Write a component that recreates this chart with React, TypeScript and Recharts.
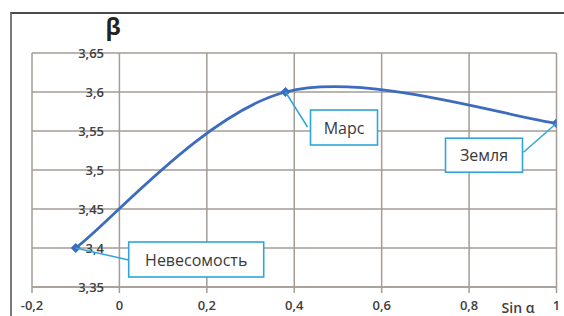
import React from "react";
import { LineChart, Line, XAxis, YAxis, CartesianGrid, LabelList } from "recharts";

const sinAlpha = [-0.1, 0.38, 1];
const beta = [3.4, 3.6, 3.56];
const pointNames = ["Невесомость", "Марс", "Земля"];
const xTicks = [-0.2, 0, 0.2, 0.4, 0.6, 0.8, 1];
const yTicks = [3.35, 3.4, 3.45, 3.5, 3.55, 3.6, 3.65];

const data = sinAlpha.map((x, i) => ({ x, y: beta[i], name: pointNames[i] }));

// callout placement relative to each point (style only)
const callouts = [
  { bx: 53, by: -6, bw: 135, bh: 35, lx: 53, ly: 12 },
  { bx: 25, by: 18, bw: 67, bh: 35, lx: 22, ly: 35 },
  { bx: -111, by: 15, bw: 77, bh: 34, lx: -33, ly: 29 },
];

const GRID = "#a39c97";
const LINE = "#3d6cbf";
const CALLOUT = "#2fa5d8";
const TEXT = "#3a3a3a";
const TICK = "#404040";
const FONT = "'Open Sans', sans-serif";

const fmt = (v: number) => String(v).replace(".", ",");

// Excel-like smoothed line (Catmull-Rom with 1/6 tangents)
const excelSmooth: any = (context: any) => {
  let pts: [number, number][] = [];
  return {
    areaStart() {},
    areaEnd() {},
    lineStart() {
      pts = [];
    },
    lineEnd() {
      const n = pts.length;
      if (n === 0) return;
      context.moveTo(pts[0][0], pts[0][1]);
      for (let i = 0; i < n - 1; i++) {
        const p0 = pts[Math.max(0, i - 1)];
        const p1 = pts[i];
        const p2 = pts[i + 1];
        const p3 = pts[Math.min(n - 1, i + 2)];
        context.bezierCurveTo(
          p1[0] + (p2[0] - p0[0]) / 6,
          p1[1] + (p2[1] - p0[1]) / 6,
          p2[0] - (p3[0] - p1[0]) / 6,
          p2[1] - (p3[1] - p1[1]) / 6,
          p2[0],
          p2[1]
        );
      }
    },
    point(x: number, y: number) {
      pts.push([+x, +y]);
    },
  };
};

const renderYTick = (props: any) => {
  const { y, payload, index } = props;
  return (
    <text
      key={`yt${index}`}
      x={104}
      y={y}
      textAnchor="end"
      dominantBaseline="central"
      fontFamily={FONT}
      fontSize={13}
      fontWeight={600}
      fill={TICK}
    >
      {fmt(payload.value)}
    </text>
  );
};

const Diamond = (p: any) => {
  const { cx, cy, index } = p;
  const r = 5;
  return (
    <path
      key={`d${index}`}
      d={`M${cx},${cy - r}L${cx + r},${cy}L${cx},${cy + r}L${cx - r},${cy}Z`}
      fill={LINE}
    />
  );
};

const Callout = (p: any) => {
  const { x, y, index, value } = p;
  const c = callouts[index];
  if (!c) return null;
  return (
    <g>
      <line x1={x} y1={y} x2={x + c.lx} y2={y + c.ly} stroke={CALLOUT} strokeWidth={1.5} />
      <rect
        x={x + c.bx}
        y={y + c.by}
        width={c.bw}
        height={c.bh}
        fill="#ffffff"
        stroke={CALLOUT}
        strokeWidth={1.6}
      />
      <text
        x={x + c.bx + c.bw / 2}
        y={y + c.by + c.bh / 2}
        textAnchor="middle"
        dominantBaseline="central"
        fontFamily={FONT}
        fontSize={16}
        fill={TEXT}
      >
        {value}
      </text>
    </g>
  );
};

export default function App() {
  return (
    <div style={{ position: "absolute", left: 0, top: 0, width: 564, height: 316, background: "#fff", overflow: "hidden" }}>
      <div
        style={{
          position: "absolute",
          left: 10,
          top: 12,
          width: 560,
          height: 320,
          borderLeft: "2px solid #7a7a7a",
          borderTop: "2px solid #4a4a4a",
        }}
      />
      <div style={{ position: "absolute", left: 0, top: 0 }}>
        <LineChart width={564} height={316} data={data} margin={{ top: 53, right: 7.5, bottom: 0, left: 2 }}>
          <CartesianGrid stroke={GRID} strokeWidth={1.5} />
          <XAxis
            dataKey="x"
            type="number"
            domain={[-0.2, 1]}
            ticks={xTicks}
            tickFormatter={fmt}
            height={29}
            stroke={GRID}
            axisLine={{ stroke: GRID, strokeWidth: 1.5 }}
            tickLine={{ stroke: GRID, strokeWidth: 1.5 }}
            tickSize={6}
            tickMargin={8}
            tick={{ fontFamily: FONT, fontSize: 13, fontWeight: 600, fill: TICK }}
            allowDataOverflow
          />
          <YAxis
            type="number"
            domain={[3.35, 3.65]}
            ticks={yTicks}
            width={30}
            axisLine={false}
            tickLine={false}
            tick={renderYTick}
            allowDataOverflow
          />
          <Line
            dataKey="y"
            type={excelSmooth}
            stroke={LINE}
            strokeWidth={2.75}
            dot={<Diamond />}
            activeDot={false}
            isAnimationActive={false}
          >
            <LabelList dataKey="name" content={<Callout />} />
          </Line>
        </LineChart>
      </div>
      <svg width={564} height={316} style={{ position: "absolute", left: 0, top: 0, pointerEvents: "none" }}>
        <text x={113} y={35} textAnchor="middle" fontFamily={FONT} fontSize={23} fontWeight={700} fill="#222">
          β
        </text>
        <text x={518} y={313} textAnchor="middle" fontFamily={FONT} fontSize={14} fontWeight={600} fill={TICK}>
          Sin α
        </text>
      </svg>
    </div>
  );
}
